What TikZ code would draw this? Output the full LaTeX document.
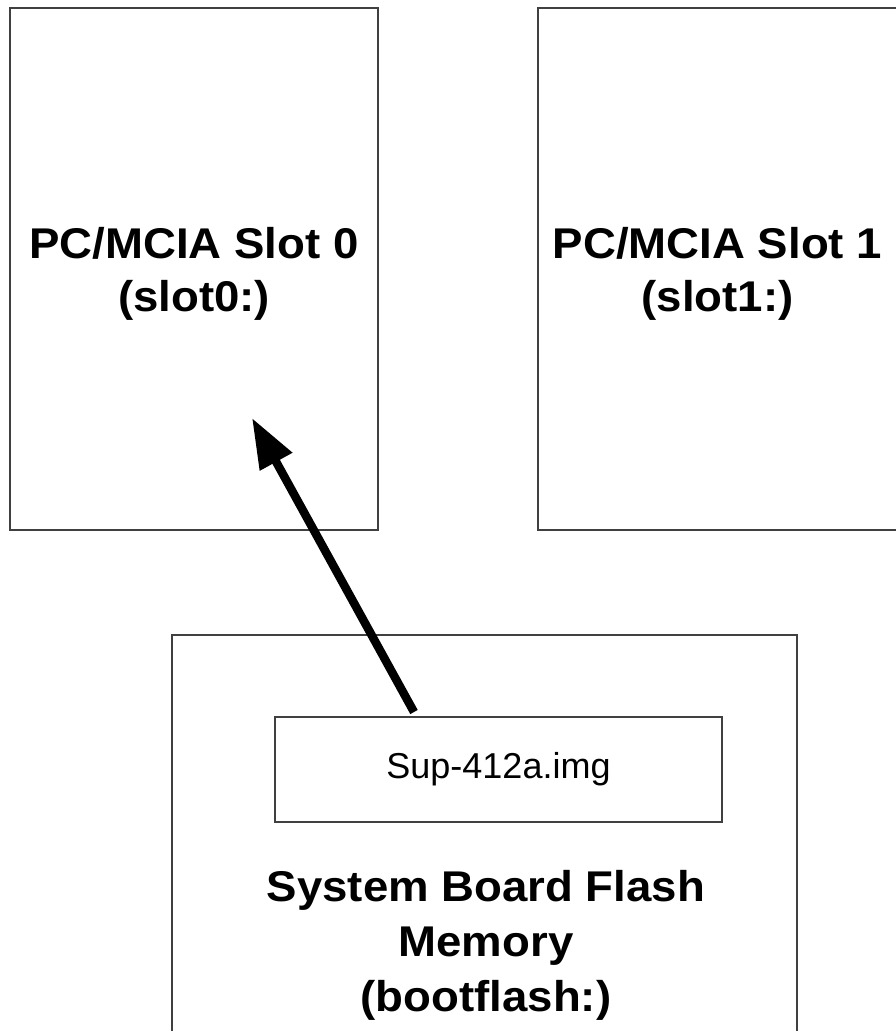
\documentclass[tikz,border=0pt]{standalone}
\usepackage{fontspec}
\setmainfont{Liberation Sans}
\newfontfamily\slotfont[FakeStretch=1.06]{Liberation Sans}
\usetikzlibrary{arrows.meta}

\begin{document}
\begin{tikzpicture}[x=1pt, y=-1pt, >={Triangle[length=50pt,width=35pt]},
    khung/.style={draw=black!75, line width=1.8pt, rectangle, inner sep=0pt},
    nhan/.style={font=\slotfont\bfseries\fontsize{43}{53}\selectfont, align=center}]

    % 1. Khung hình và vùng cắt
    \useasboundingbox (0, 0) rectangle (896, 1031);
    \clip (0, 0) rectangle (896, 1031);

    % 2. Hai khe PC/MCIA
    \node[khung, minimum width=368pt, minimum height=522pt] (slotA) at (194, 269) {};
    \node[nhan] at (194, 274) {PC/MCIA Slot 0\\(slot0:)};

    \node[khung, minimum width=359pt, minimum height=522pt] (slotB) at (717.5, 269) {};
    \node[nhan] at (717.5, 274) {PC/MCIA Slot 1\\(slot1:)};

    % 3. Bộ nhớ flash trên bo mạch
    \node[khung, minimum width=625pt, minimum height=430pt] (flash) at (484.5, 850) {};
    \node[khung, minimum width=447pt, minimum height=105pt,
          font=\fontsize{36}{40}\selectfont] (img) at (498.5, 769.5) {Sup-412a.img};
    \node[nhan, font=\slotfont\bfseries\fontsize{43}{55}\selectfont]
        (flashlabel) at (486, 945) {System Board Flash\\Memory\\(bootflash:)};

    % 4. Mũi tên sao chép
    \coordinate (src) at (414, 712);
    \coordinate (tip) at (252, 418);
    \draw[->, line width=8.5pt] (src) -- (tip);

\end{tikzpicture}
\end{document}
